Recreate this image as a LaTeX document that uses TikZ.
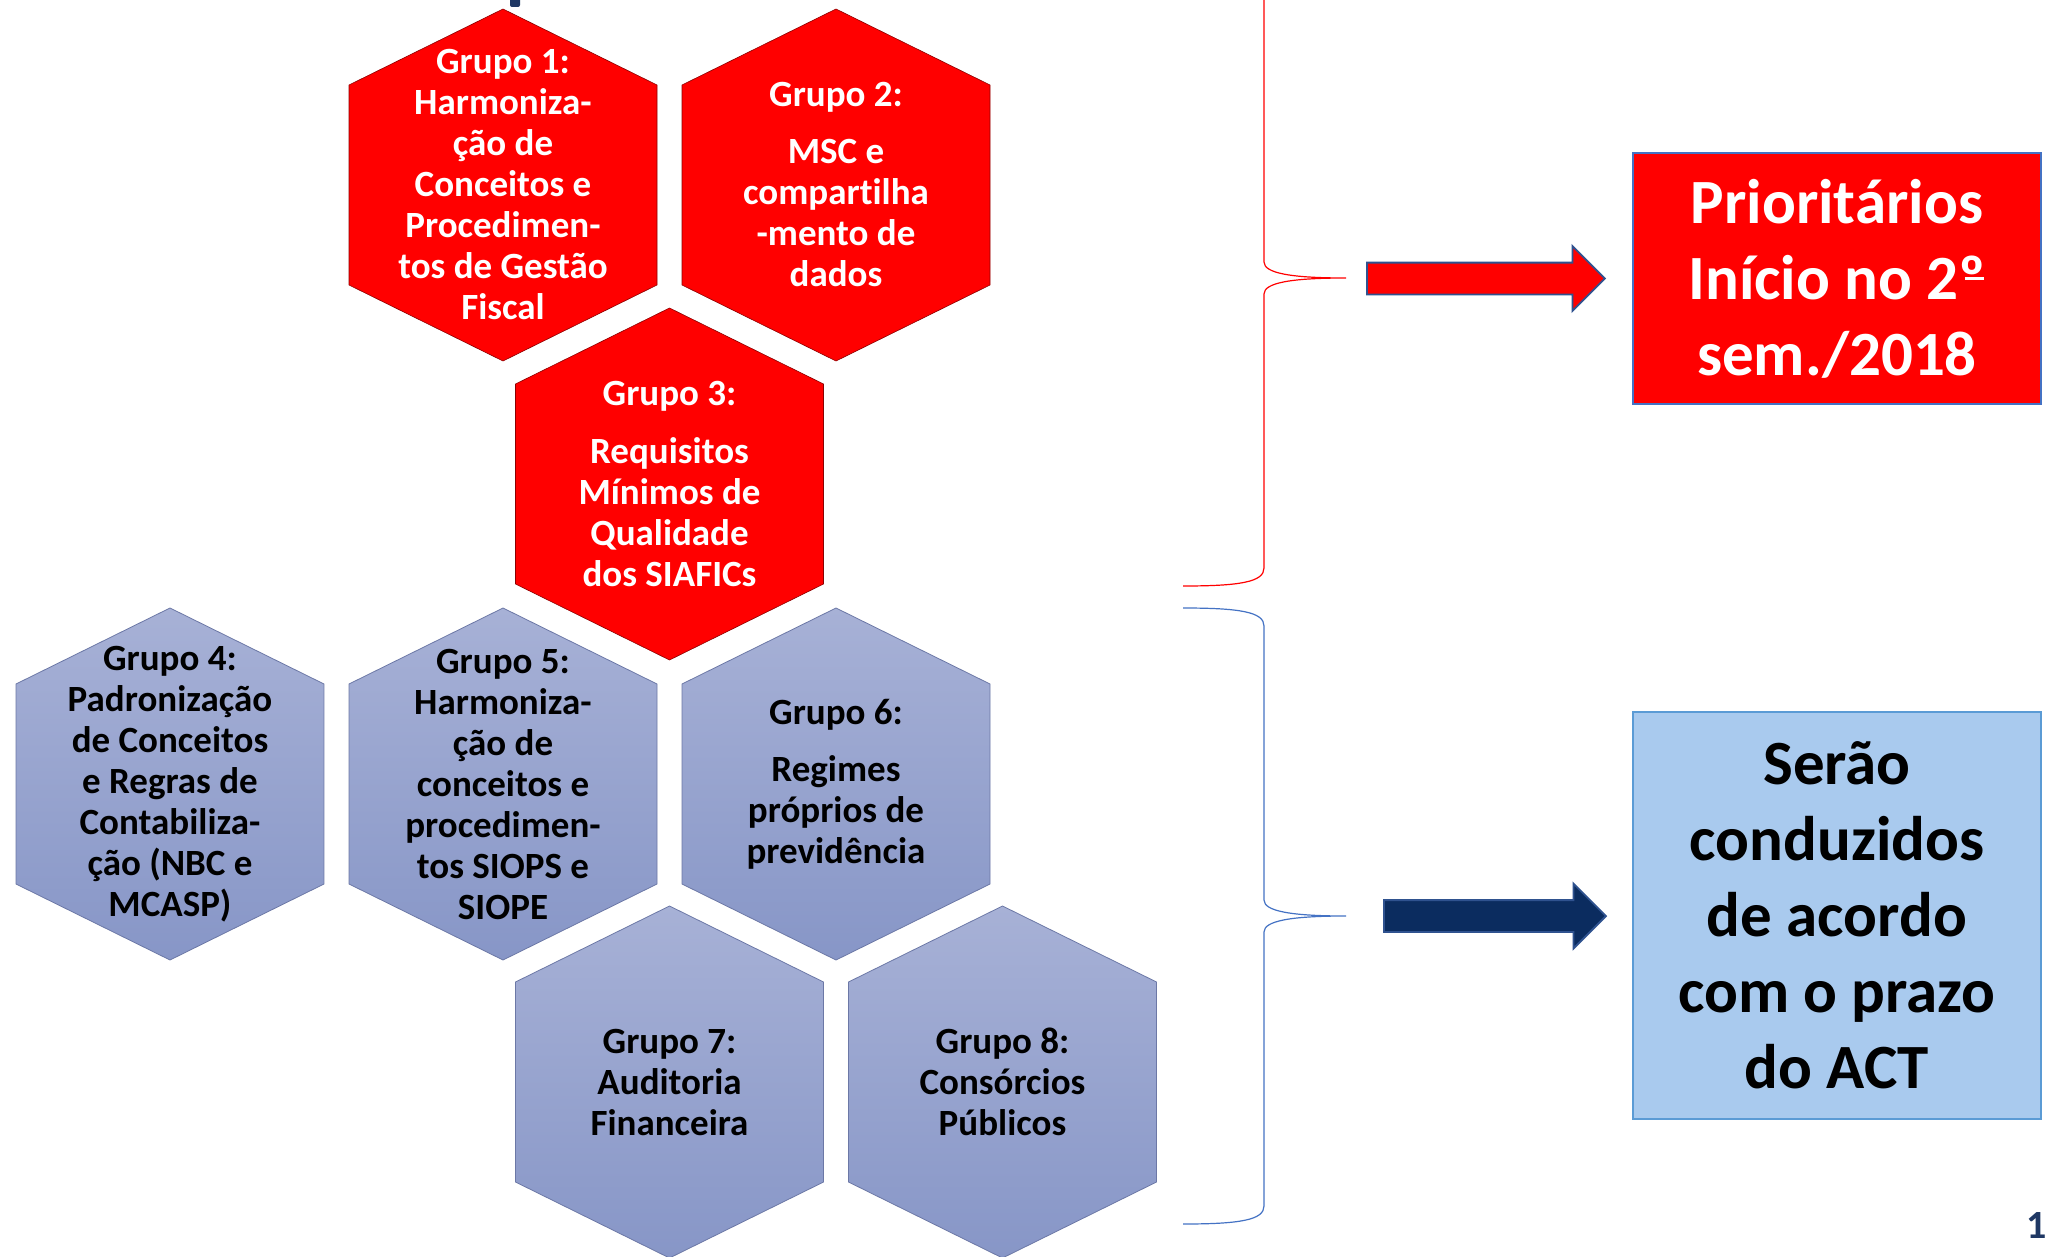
\documentclass[tikz,border=0pt]{standalone}
\usepackage{fontspec}
\setmainfont{Carlito}[Ligatures=NoCommon]
\usetikzlibrary{shapes.arrows,backgrounds}

\definecolor{vermelho}{HTML}{FF0000}
\definecolor{azultopo}{HTML}{A7B1D6}
\definecolor{azulbase}{HTML}{8796C7}
\definecolor{azulborda}{HTML}{6C78A6}
\definecolor{bordaazul}{HTML}{4472C4}
\definecolor{azulcaixa}{HTML}{A9CAEE}
\definecolor{bordacaixa}{HTML}{5B9BD5}
\definecolor{azulescuro}{HTML}{0B2C5F}
\definecolor{bordaseta}{HTML}{2F528F}
\definecolor{numazul}{HTML}{1F3864}

% hexagon round a node centre
\newcommand{\hexa}[2]{\path[#1] (#2) ++(0,-176) -- ++(154,76) -- ++(0,200) -- ++(-154,76) -- ++(-154,-76) -- ++(0,-200) -- cycle;}
% right brace with its tip at height #2
\newcommand{\chave}[2]{\draw[chave, #1] (1183,#2-308) .. controls (1240,#2-308) and (1264,#2-304) .. (1264,#2-290) -- (1264,#2-16) .. controls (1264,#2-5) and (1290,#2) .. (1346,#2) .. controls (1290,#2) and (1264,#2+5) .. (1264,#2+16) -- (1264,#2+290) .. controls (1264,#2+304) and (1240,#2+308) .. (1183,#2+308);}
% ordinal with its bar
\newcommand{\ordo}{º\llap{\rule[0.3em]{0.3em}{0.055em}\kern0.03em}}

\begin{document}
\begin{tikzpicture}[x=1pt, y=-1pt,
    grupo/.style={align=center, inner sep=0pt, font=\fontsize{37}{41}\selectfont\bfseries},
    hexred/.style={fill=vermelho, draw=red!55!black, line width=0.6pt},
    hexblue/.style={top color=azultopo, bottom color=azulbase, draw=azulborda, line width=0.8pt},
    caixa/.style={rectangle, minimum width=408pt, inner sep=0pt, line width=1.5pt, align=center, font=\fontsize{63}{76}\selectfont\bfseries},
    seta/.style={single arrow, single arrow head extend=16.5pt, single arrow tip angle=90, inner xsep=0pt, inner ysep=15pt, line width=1.8pt, draw=bordaseta},
    chave/.style={line width=1.2pt}]

    \useasboundingbox (0,0) rectangle (2049,1257);

    % the eight groups
    \node[grupo, text=white] (g1) at (503,185) {Grupo 1:\\Harmoniza-\\ção de\\Conceitos e\\Procedimen-\\tos de Gestão\\Fiscal};
    \node[grupo, text=white] (g2) at (836,185) {Grupo 2:\\[16pt]MSC e\\compartilha\\-mento de\\dados};
    \node[grupo, text=white] (g3) at (669.5,484) {Grupo 3:\\[16pt]Requisitos\\Mínimos de\\Qualidade\\dos SIAFICs};
    \node[grupo] (g4) at (170,784) {Grupo 4:\\Padronização\\de Conceitos\\e Regras de\\Contabiliza-\\ção (NBC e\\MCASP)};
    \node[grupo] (g5) at (503,784) {Grupo 5:\\Harmoniza-\\ção de\\conceitos e\\procedimen-\\tos SIOPS e\\SIOPE};
    \node[grupo] (g6) at (836,784) {Grupo 6:\\[16pt]Regimes\\próprios de\\previdência};
    \node[grupo] (g7) at (669.5,1082) {Grupo 7:\\Auditoria\\Financeira};
    \node[grupo] (g8) at (1002.5,1082) {Grupo 8:\\Consórcios\\Públicos};

    \begin{scope}[on background layer]
        \fill[white] (0,0) rectangle (2049,1257);
        \foreach \g in {g1,g2,g3} {\hexa{hexred}{\g.center}}
        \foreach \g in {g4,g5,g6,g7,g8} {\hexa{hexblue}{\g.center}}
        \fill[numazul, rounded corners=2pt] (510,-4) rectangle (520,7);
    \end{scope}

    % braces
    \begin{scope}
        \clip (0,0) rectangle (2049,1257);
        \chave{vermelho}{278}
        \chave{bordaazul}{916}
    \end{scope}

    % arrows and outcomes
    \node[seta, fill=vermelho, minimum height=238pt] (s1) at (1478,278.5) {};
    \node[seta, fill=azulescuro, minimum height=222pt] (s2) at (1487,916) {};

    \node[caixa, fill=vermelho, draw=bordaazul, text=white, minimum height=251pt] (prio) at (1837,278.5) {Prioritários\\Início no 2\ordo\\sem./2018};
    \node[caixa, fill=azulcaixa, draw=bordacaixa, minimum height=407pt] (act) at (1837,915.5) {Serão\\conduzidos\\de acordo\\com o prazo\\do ACT};

    \node[anchor=west, inner sep=0pt, text=numazul, font=\fontsize{40}{48}\selectfont\bfseries] (pag) at (2026,1225) {1};
\end{tikzpicture}
\end{document}
